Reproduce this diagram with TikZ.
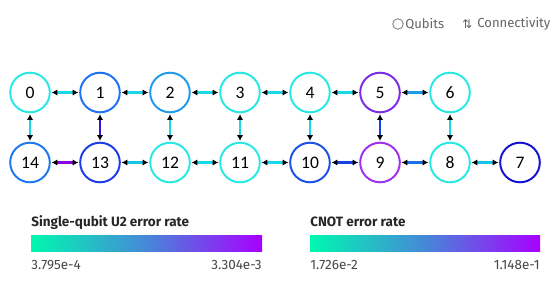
\documentclass[tikz,border=0pt]{standalone}
\usepackage{fontspec}
\setmainfont{Fira Sans}
\newfontfamily\numfont{Carlito}
\newfontfamily\symfont{DejaVu Sans}
\usepackage{tikz}
\definecolor{qcyan}{RGB}{40,232,228}
\definecolor{qsky}{RGB}{30,155,235}
\definecolor{qblue}{RGB}{30,112,245}
\definecolor{qazure}{RGB}{30,120,240}
\definecolor{qroyal}{RGB}{30,60,230}
\definecolor{qcobalt}{RGB}{30,80,230}
\definecolor{qnavy}{RGB}{20,20,210}
\definecolor{qviolet}{RGB}{125,44,230}
\definecolor{qpurple}{RGB}{160,48,240}
\definecolor{lcyan}{RGB}{24,216,232}
\definecolor{lteal}{RGB}{24,195,232}
\definecolor{lsky}{RGB}{26,155,232}
\definecolor{lblue}{RGB}{26,112,232}
\definecolor{lroyal}{RGB}{20,64,230}
\definecolor{lindigo}{RGB}{58,16,224}
\definecolor{lpurple}{RGB}{140,0,224}
\definecolor{barlow}{RGB}{0,248,176}
\definecolor{barmid}{RGB}{70,136,216}
\definecolor{barhigh}{RGB}{168,0,255}
\definecolor{txtgray}{RGB}{70,70,70}
\definecolor{leggray}{RGB}{100,100,100}
\usetikzlibrary{arrows.meta,positioning,calc}

\begin{document}
\begin{tikzpicture}[x=0.025cm,y=-0.025cm,
  qubit/.style={circle,draw,line width=1.4pt,minimum size=0.99cm,inner sep=0pt,outer sep=1.3pt,font=\numfont\fontsize{12.5}{14}\selectfont},
  link/.style={{Latex[black,length=4pt,width=4.4pt]}-{Latex[black,length=4pt,width=4.4pt]},line width=1.5pt},
  bar/.style={left color=barlow,right color=barhigh,middle color=barmid},
  ttl/.style={font=\bfseries\fontsize{9.6}{11}\selectfont,text=black!85,anchor=base west,inner sep=0pt},
  tick/.style={font=\fontsize{9.6}{11}\selectfont,text=txtgray,inner sep=0pt},
  legend/.style={font=\fontsize{9.3}{11}\selectfont,text=leggray,inner sep=0pt}]
  \useasboundingbox (0,0) rectangle (558,282);
  % Legend
  \node[circle,draw=leggray,line width=0.5pt,minimum size=7.5pt,inner sep=0pt] (qicon) at (398,24) {};
  \node[legend,anchor=west] (qlbl) at (405,24) {Qubits};
  \node[legend,anchor=west] (cicon) at (462,24) {\symfont\fontsize{8.5}{10}\selectfont ⇅};
  \node[legend,anchor=west] (clbl) at (477,24) {Connectivity};
  % Qubits, top row
  \foreach \n/\x/\c in {0/30/qcyan,1/100/qblue,2/170/qsky,3/240/qcyan,4/310/qcyan,5/380/qviolet,6/450/qcyan}
    \node[qubit,draw=\c] (q\n) at (\x,92.5) {\n};
  % Qubits, bottom row
  \foreach \n/\x/\c in {14/30/qazure,13/100/qroyal,12/170/qcyan,11/240/qcyan,10/310/qcobalt,9/380/qpurple,8/450/qcyan,7/520/qnavy}
    \node[qubit,draw=\c] (q\n) at (\x,162.5) {\n};
  % Couplings
  \foreach \a/\b/\c in {0/1/lcyan,1/2/lcyan,2/3/lcyan,3/4/lcyan,4/5/lcyan,5/6/lsky,
                        0/14/lcyan,1/13/lindigo,2/12/lcyan,3/11/lcyan,4/10/lcyan,5/9/lroyal,6/8/lcyan,
                        14/13/lpurple,13/12/lteal,12/11/lcyan,11/10/lcyan,10/9/lroyal,9/8/lblue,8/7/lteal}
    \draw[link,\c] (q\a) -- (q\b);
  % Colour scales
  \node[ttl] (utitle) at (31,226) {Single-qubit U2 error rate};
  \shade[bar] (31,235) rectangle (262,251);
  \node[tick,anchor=base west] (umin) at (31,269) {3.795e-4};
  \node[tick,anchor=base east] (umax) at (262,269) {3.304e-3};
  \node[ttl] (ctitle) at (310,226) {CNOT error rate};
  \shade[bar] (310,235) rectangle (540,251);
  \node[tick,anchor=base west] (cmin) at (310,269) {1.726e-2};
  \node[tick,anchor=base east] (cmax) at (540,269) {1.148e-1};
\end{tikzpicture}
\end{document}
